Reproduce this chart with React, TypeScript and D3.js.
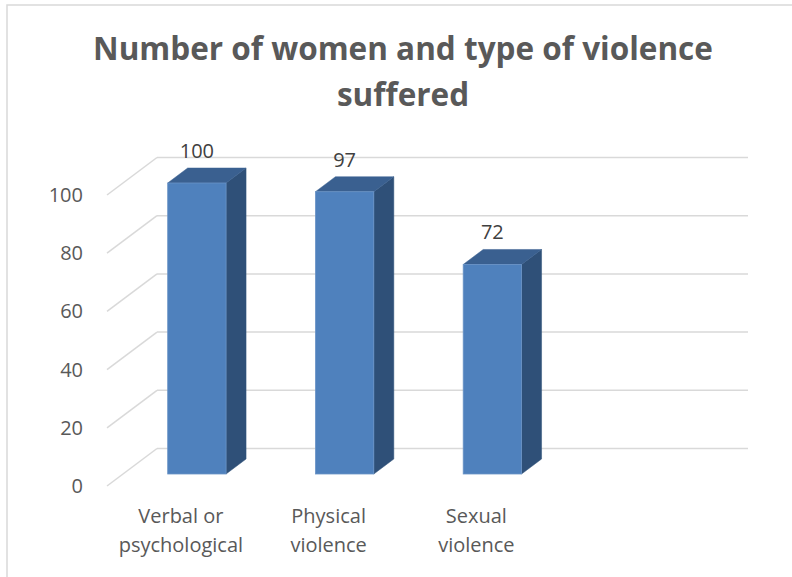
import React from "react";
import * as d3 from "d3";

const categories: string[][] = [
  ["Verbal or", "psychological"],
  ["Physical", "violence"],
  ["Sexual", "violence"],
];
const values: number[] = [100, 97, 72];
const yTicks: number[] = [0, 20, 40, 60, 80, 100];
const titleLines: string[] = ["Number of women and type of violence", "suffered"];

const W = 792;
const H = 577;
const SLOTS = 4;
const DX = 50;
const DY = -37.5;
const F0 = 0.32;
const DD = 0.4;
const TEXT = "#595959";
const GRID = "#D9D9D9";
const FONT = "'Open Sans', 'Noto Sans', sans-serif";

export default function App() {
  const x = d3.scaleBand<number>().domain(d3.range(SLOTS)).range([107, 698]).paddingInner(0).paddingOuter(0);
  const y = d3.scaleLinear().domain([0, 100]).range([486, 195]);
  const band = x.bandwidth();
  const bw = band * 0.395;

  return (
    <svg width={W} height={H} style={{ position: "absolute", left: 0, top: 0, background: "#fff" }}>
      <rect x={7} y={5} width={900} height={700} fill="#fff" stroke={GRID} strokeWidth={1.5} />
      {titleLines.map((t, i) => (
        <text
          key={t}
          x={403}
          y={60 + i * 46}
          textAnchor="middle"
          fontFamily={FONT}
          fontWeight={700}
          fontSize={31.5}
          fill={TEXT}
        >
          {t}
        </text>
      ))}
      {yTicks.map((t) => (
        <g key={t}>
          <line x1={x.range()[0] + DX} x2={x.range()[1] + DX} y1={y(t) + DY} y2={y(t) + DY} stroke={GRID} strokeWidth={1.5} />
          <line x1={x.range()[0]} x2={x.range()[0] + DX} y1={y(t)} y2={y(t) + DY} stroke={GRID} strokeWidth={1.5} />
          <text x={83} y={y(t)} dy="0.35em" textAnchor="end" fontFamily={FONT} fontSize={20} fill={TEXT}>
            {t}
          </text>
        </g>
      ))}
      {values.map((v, i) => {
        const x0 = (x(i) as number) + (band - bw) / 2 + F0 * DX;
        const x1 = x0 + bw;
        const yb = y(0) + F0 * DY;
        const yt = y(v) + F0 * DY;
        const ddx = DD * DX;
        const ddy = DD * DY;
        return (
          <g key={i}>
            <polygon
              points={`${x1},${yt} ${x1 + ddx},${yt + ddy} ${x1 + ddx},${yb + ddy} ${x1},${yb}`}
              fill="#2F5078"
              stroke="#2F5078"
              strokeWidth={0.5}
            />
            <polygon
              points={`${x0},${yt} ${x0 + ddx},${yt + ddy} ${x1 + ddx},${yt + ddy} ${x1},${yt}`}
              fill="#3A6090"
              stroke="#3A6090"
              strokeWidth={0.5}
            />
            <rect x={x0} y={yt} width={bw} height={yb - yt} fill="#4F81BD" stroke="#6A93C6" strokeWidth={0.8} />
            <text
              x={(x0 + x1) / 2}
              y={yt + ddy - 10}
              textAnchor="middle"
              fontFamily={FONT}
              fontSize={20}
              fill="#404040"
            >
              {v}
            </text>
          </g>
        );
      })}
      {categories.map((lines, i) => (
        <text key={i} textAnchor="middle" fontFamily={FONT} fontSize={20} fill={TEXT}>
          {lines.map((l, j) => (
            <tspan key={j} x={(x(i) as number) + band / 2} y={523 + j * 29}>
              {l}
            </tspan>
          ))}
        </text>
      ))}
    </svg>
  );
}
